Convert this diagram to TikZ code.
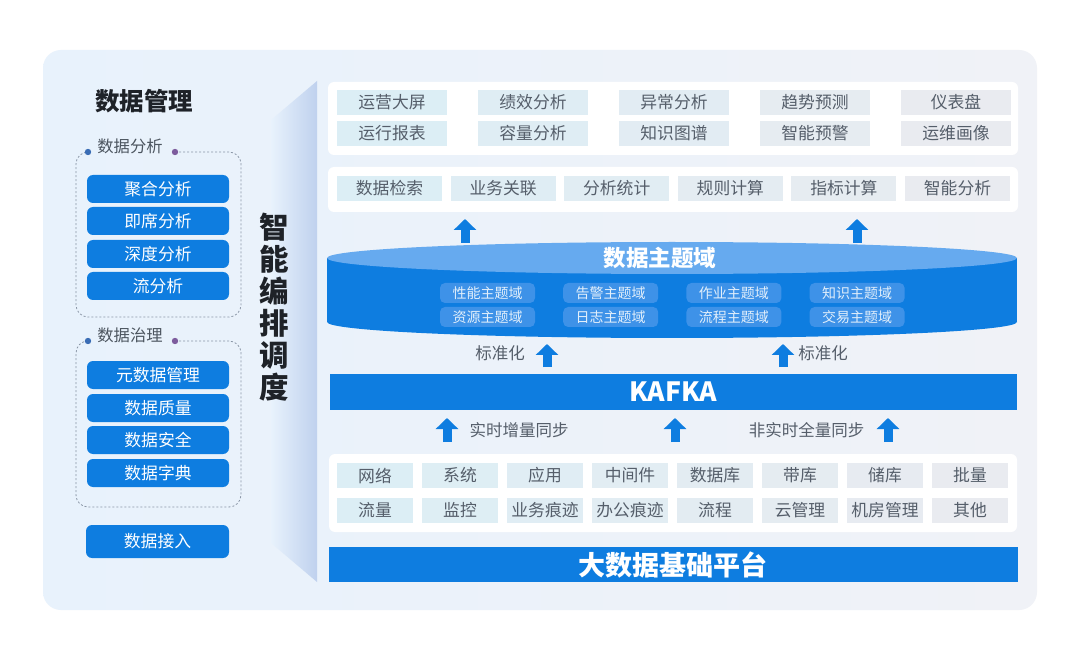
\documentclass[tikz,border=0pt]{standalone}
\usepackage{fontspec}
\setmainfont{Noto Sans CJK SC}
\usetikzlibrary{arrows.meta}
\definecolor{mblue}{HTML}{0E7DE0}
\definecolor{bgL}{HTML}{E8F2FC}
\definecolor{bgR}{HTML}{F0F2F7}
\definecolor{vpan}{HTML}{BFD1EE}
\definecolor{cellA}{HTML}{DCEEF5}
\definecolor{cellB}{HTML}{E9EBF0}
\definecolor{celltext}{HTML}{555E6A}
\definecolor{darktext}{HTML}{1E2228}
\definecolor{topface}{HTML}{66AAEF}
\definecolor{subitem}{HTML}{3E92E8}
\definecolor{dotblue}{HTML}{3A6DB5}
\definecolor{dotpurple}{HTML}{7D5C9D}
\definecolor{dashc}{HTML}{8A96A6}
\tikzset{
  whitebox/.style={fill=white, draw=none, rounded corners=6pt},
  cellbox/.style={draw=none, inner sep=0pt, text=celltext, font=\fontsize{16.8}{18}\selectfont},
  btn/.style={fill=mblue, draw=none, rounded corners=6pt, minimum width=142pt, minimum height=28pt, inner sep=0pt, text=white, font=\fontsize{16.8}{18}\selectfont},
  subbox/.style={fill=subitem, draw=none, rounded corners=5pt, minimum width=95pt, minimum height=20pt, inner sep=0pt, text=white!88!mblue, font=\fontsize{14}{16}\selectfont},
  lbl/.style={text=celltext, font=\fontsize{16.5}{18}\selectfont, inner sep=0pt},
  grp/.style={text=celltext!90!black, font=\fontsize{16.3}{18}\selectfont, inner sep=0pt},
  dashbox/.style={draw=dashc, line width=0.8pt, dash pattern=on 2pt off 2pt, rounded corners=12pt},
  bigarrow/.style={draw=mblue, line width=9pt, -{Triangle[width=22pt,length=11pt]}},
  bar/.style={fill=mblue, draw=none},
  bartext/.style={text=white, font=\bfseries\fontsize{26.5}{30}\selectfont, inner sep=0pt}
}
\begin{document}
\begin{tikzpicture}[x=1pt,y=-1pt]
\useasboundingbox (0,0) rectangle (1080,663);
\fill[white] (0,0) rectangle (1080,663);
% outer panel
\shade[left color=bgL, right color=bgR, rounded corners=18pt] (43,50) rectangle (1037,610);
% vertical gradient panel
\shade[left color=bgL, right color=vpan] (271,120) -- (317,81) -- (317,582) -- (271,543) -- cycle;
\node[font=\bfseries\fontsize{29.5}{32}\selectfont, text=darktext, align=center, inner sep=0pt] (vtext) at (274,307) {智\\能\\编\\排\\调\\度};

% ---------- left column ----------
\node[font=\bfseries\fontsize{24.5}{28}\selectfont, text=darktext, inner sep=0pt] (title) at (144,101) {数据管理};

\node[grp] (g1) at (130,146) {数据分析};
\draw[dashbox] (175,152) -- (241,152) -- (241,317) -- (76,317) -- (76,152) -- (88,152);
\fill[dotblue] (88,152) circle (3.2pt);
\fill[dotpurple] (175,152) circle (3.2pt);
\node[btn] (b1) at (158,189) {聚合分析};
\node[btn] (b2) at (158,221) {即席分析};
\node[btn] (b3) at (158,254) {深度分析};
\node[btn] (b4) at (158,286) {流分析};

\node[grp] (g2) at (130,335) {数据治理};
\draw[dashbox] (175,341) -- (241,341) -- (241,507) -- (76,507) -- (76,341) -- (88,341);
\fill[dotblue] (88,341) circle (3.2pt);
\fill[dotpurple] (175,341) circle (3.2pt);
\node[btn] (b5) at (158,375) {元数据管理};
\node[btn] (b6) at (158,408) {数据质量};
\node[btn] (b7) at (158,440) {数据安全};
\node[btn] (b8) at (158,473) {数据字典};

\node[btn, minimum height=33pt, minimum width=143pt] (b9) at (157.5,541.5) {数据接入};

% ---------- top boxes ----------
\fill[whitebox] (328,82) rectangle (1018,155);
\foreach \t [count=\i from 0] in {运营大屏,绩效分析,异常分析,趋势预测,仪表盘}{
  \pgfmathsetmacro{\cx}{392+141*\i}
  \pgfmathsetmacro{\pc}{100-\i*25}
  \colorlet{cc}{cellA!\pc!cellB}
  \node[cellbox, fill=cc, minimum width=110pt, minimum height=25pt] (ta\i) at (\cx,102.5) {\t};
}
\foreach \t [count=\i from 0] in {运行报表,容量分析,知识图谱,智能预警,运维画像}{
  \pgfmathsetmacro{\cx}{392+141*\i}
  \pgfmathsetmacro{\pc}{100-\i*25}
  \colorlet{cc}{cellA!\pc!cellB}
  \node[cellbox, fill=cc, minimum width=110pt, minimum height=25pt] (tb\i) at (\cx,133.5) {\t};
}
\fill[whitebox] (328,167) rectangle (1018,212);
\foreach \t [count=\i from 0] in {数据检索,业务关联,分析统计,规则计算,指标计算,智能分析}{
  \pgfmathsetmacro{\cx}{389.5+113.6*\i}
  \pgfmathsetmacro{\pc}{100-\i*20}
  \colorlet{cc}{cellA!\pc!cellB}
  \node[cellbox, fill=cc, minimum width=105pt, minimum height=25pt] (s\i) at (\cx,188.5) {\t};
}

% arrows to top
\coordinate (a1s) at (465,243); \coordinate (a1e) at (465,219);
\coordinate (a2s) at (857,243); \coordinate (a2e) at (857,219);
\draw[bigarrow] (a1s) -- (a1e);
\draw[bigarrow] (a2s) -- (a2e);

% ---------- cylinder ----------
\fill[mblue] (327,258) rectangle (1017,322);
\fill[mblue] (672,322) ellipse [x radius=345pt, y radius=16pt];
\fill[topface] (672,258) ellipse [x radius=345pt, y radius=16pt];
\node[text=white, font=\bfseries\fontsize{22.5}{26}\selectfont, inner sep=0pt] (cyl) at (660,258) {数据主题域};
\foreach \t [count=\i from 0] in {性能主题域,告警主题域,作业主题域,知识主题域}{
  \pgfmathsetmacro{\cx}{487.5+123.2*\i}
  \node[subbox] (ua\i) at (\cx,293) {\t};
}
\foreach \t [count=\i from 0] in {资源主题域,日志主题域,流程主题域,交易主题域}{
  \pgfmathsetmacro{\cx}{487.5+123.2*\i}
  \node[subbox] (ub\i) at (\cx,317) {\t};
}

% standardisation
\node[lbl] (std1) at (500,353) {标准化};
\coordinate (a3s) at (547,367); \coordinate (a3e) at (547,344);
\draw[bigarrow] (a3s) -- (a3e);
\coordinate (a4s) at (783,367); \coordinate (a4e) at (783,344);
\draw[bigarrow] (a4s) -- (a4e);
\node[lbl] (std2) at (823,353) {标准化};

% KAFKA
\fill[bar] (330,374) rectangle (1017,410);
\node[bartext] (kafka) at (673,392) {KAFKA};

% sync row
\coordinate (a5s) at (447,442); \coordinate (a5e) at (447,418);
\draw[bigarrow] (a5s) -- (a5e);
\node[lbl] (sync1) at (519,430) {实时增量同步};
\coordinate (a6s) at (675,442); \coordinate (a6e) at (675,418);
\draw[bigarrow] (a6s) -- (a6e);
\node[lbl] (sync2) at (806.5,430) {非实时全量同步};
\coordinate (a7s) at (888,442); \coordinate (a7e) at (888,418);
\draw[bigarrow] (a7s) -- (a7e);

% bottom box
\fill[whitebox] (329,454) rectangle (1017,532);
\foreach \t [count=\i from 0] in {网络,系统,应用,中间件,数据库,带库,储库,批量}{
  \pgfmathsetmacro{\cx}{375+85*\i}
  \pgfmathsetmacro{\pc}{100-\i*14.28}
  \colorlet{cc}{cellA!\pc!cellB}
  \node[cellbox, fill=cc, minimum width=76pt, minimum height=25pt] (da\i) at (\cx,475.5) {\t};
}
\foreach \t [count=\i from 0] in {流量,监控,业务痕迹,办公痕迹,流程,云管理,机房管理,其他}{
  \pgfmathsetmacro{\cx}{375+85*\i}
  \pgfmathsetmacro{\pc}{100-\i*14.28}
  \colorlet{cc}{cellA!\pc!cellB}
  \node[cellbox, fill=cc, minimum width=76pt, minimum height=25pt] (db\i) at (\cx,510.5) {\t};
}

% base platform
\fill[bar] (329,547) rectangle (1018,582);
\node[bartext, font=\bfseries\fontsize{27}{30}\selectfont] (base) at (673,565) {大数据基础平台};
\end{tikzpicture}
\end{document}
